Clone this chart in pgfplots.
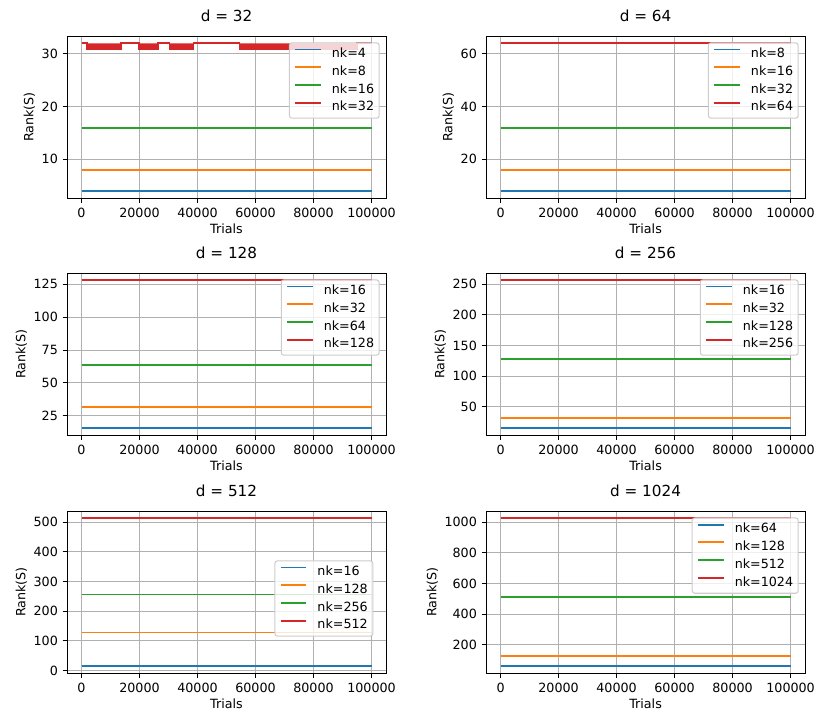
\documentclass[border=0pt]{standalone}
\usepackage{fontspec}
\setmainfont{DejaVu Sans}
\usepackage{pgfplots}
\pgfplotsset{compat=1.18}
\definecolor{c0}{HTML}{1F77B4}
\definecolor{c1}{HTML}{FF7F0E}
\definecolor{c2}{HTML}{2CA02C}
\definecolor{c3}{HTML}{D62728}
\definecolor{gridc}{HTML}{B0B0B0}
\definecolor{legc}{HTML}{CCCCCC}
\pgfplotsset{
 rk/.style={
  scale only axis, width=251.2pt, height=127.6pt,
  xmin=-5000, xmax=105000,
  xtick={0,20000,40000,60000,80000,100000},
  scaled x ticks=false, scaled y ticks=false,
  /pgf/number format/assume math mode=true,
  /pgf/number format/1000 sep={},
  /pgf/number format/fixed,
  tick align=outside, major tick length=3.5pt,
  xtick pos=left, ytick pos=left,
  tick style={black, line width=0.8pt},
  axis line style={line width=0.8pt},
  grid=major, major grid style={gridc, line width=0.8pt},
  tick label style={font=\fontsize{10}{12}\selectfont, inner sep=0pt},
  xticklabel style={anchor=north, yshift=-4.3pt},
  yticklabel style={anchor=east, xshift=-3.5pt},
  xlabel={Trials}, ylabel={Rank(S)},
  label style={font=\fontsize{10}{12}\selectfont},
  xlabel style={at={(axis description cs:0.5,0)}, anchor=north, yshift=-20.4pt, inner sep=0pt},
  ylabel style={at={(ticklabel cs:0.5,5pt)}, anchor=south, inner sep=0pt},
  title style={at={(axis description cs:0.5,1)}, anchor=base, yshift=5.5pt, inner sep=0pt, font=\fontsize{12}{14}\selectfont},
  legend style={at={(1,1)}, anchor=north east, xshift=-5pt, yshift=-5pt,
   draw=legc, line width=0.8pt, fill=white, fill opacity=0.8, draw opacity=1, text opacity=1,
   rounded corners=2pt, inner xsep=4pt, inner ysep=4pt, row sep=4.7pt,
   font=\fontsize{10}{12}\selectfont,
   nodes={inner sep=0pt, text height=7.6pt, text depth=1.7pt},
   /tikz/every odd column/.append style={column sep=8pt}},
  legend cell align=left,
  legend image code/.code={\path (0pt,0pt); \draw[#1, line width=1.5pt] (0pt,3.4pt) -- (20pt,3.4pt);},
  every axis plot/.append style={line width=1.5pt},
 }
}
\begin{document}
\begin{tikzpicture}
\useasboundingbox (0,0) rectangle (654.3pt,-573.2pt);
% d = 32
\begin{axis}[rk, at={(52.76pt,-28.35pt)}, anchor=north west, title={d = 32},
  ymin=2.6, ymax=33.4, ytick={10,20,30}]
\addplot[c0] coordinates {(0,4) (100000,4)};
\addplot[c1] coordinates {(0,8) (100000,8)};
\addplot[c2] coordinates {(0,16) (100000,16)};
\addplot[c3, fill=c3] coordinates {(0,32) (1790,32) (1790,31) (13620,31) (13620,32)
  (19830,32) (19830,31) (26480,31) (26480,32) (30340,32) (30340,31) (38620,31) (38620,32)
  (54480,32) (54480,31) (94900,31) (94900,32) (100000,32)};
\legend{nk=4,nk=8,nk=16,nk=32}
\end{axis}
% d = 64
\begin{axis}[rk, at={(382.7pt,-28.35pt)}, anchor=north west, title={d = 64},
  ymin=5.2, ymax=66.8, ytick={20,40,60}]
\addplot[c0] coordinates {(0,8) (100000,8)};
\addplot[c1] coordinates {(0,16) (100000,16)};
\addplot[c2] coordinates {(0,32) (100000,32)};
\addplot[c3] coordinates {(0,64) (100000,64)};
\legend{nk=8,nk=16,nk=32,nk=64}
\end{axis}
% d = 128
\begin{axis}[rk, at={(52.76pt,-214.96pt)}, anchor=north west, title={d = 128},
  ymin=10.4, ymax=133.6, ytick={25,50,75,100,125}]
\addplot[c0] coordinates {(0,16) (100000,16)};
\addplot[c1] coordinates {(0,32) (100000,32)};
\addplot[c2] coordinates {(0,64) (100000,64)};
\addplot[c3] coordinates {(0,128) (100000,128)};
\legend{nk=16,nk=32,nk=64,nk=128}
\end{axis}
% d = 256
\begin{axis}[rk, at={(382.7pt,-214.96pt)}, anchor=north west, title={d = 256},
  ymin=4, ymax=268, ytick={50,100,150,200,250}]
\addplot[c0] coordinates {(0,16) (100000,16)};
\addplot[c1] coordinates {(0,32) (100000,32)};
\addplot[c2] coordinates {(0,128) (100000,128)};
\addplot[c3] coordinates {(0,256) (100000,256)};
\legend{nk=16,nk=32,nk=128,nk=256}
\end{axis}
% d = 512
\begin{axis}[rk, at={(52.76pt,-402.4pt)}, anchor=north west, title={d = 512},
  ymin=-8.8, ymax=536.8, ytick={0,100,200,300,400,500},
  legend style={at={(1,0.5)}, anchor=east, xshift=-5pt, yshift=0pt}]
\addplot[c0] coordinates {(0,16) (100000,16)};
\addplot[c1] coordinates {(0,128) (100000,128)};
\addplot[c2] coordinates {(0,256) (100000,256)};
\addplot[c3] coordinates {(0,512) (100000,512)};
\legend{nk=16,nk=128,nk=256,nk=512}
\end{axis}
% d = 1024
\begin{axis}[rk, at={(382.7pt,-402.4pt)}, anchor=north west, title={d = 1024},
  ymin=16, ymax=1072, ytick={200,400,600,800,1000}]
\addplot[c0] coordinates {(0,64) (100000,64)};
\addplot[c1] coordinates {(0,128) (100000,128)};
\addplot[c2] coordinates {(0,512) (100000,512)};
\addplot[c3] coordinates {(0,1024) (100000,1024)};
\legend{nk=64,nk=128,nk=512,nk=1024}
\end{axis}
\end{tikzpicture}
\end{document}
